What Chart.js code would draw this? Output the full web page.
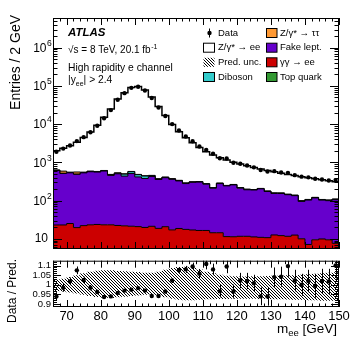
<!DOCTYPE html>
<html>
<head>
<meta charset="utf-8">
<script src="https://cdn.jsdelivr.net/npm/chart.js@4.4.1/dist/chart.umd.min.js"></script>
<style>
  html, body { margin: 0; padding: 0; background: #fff; }
  #wrap { position: relative; width: 357px; height: 344px; }
  #mainChart { position: absolute; left: 0; top: 0; }
  #ratioChart { position: absolute; left: 0; top: 253px; }
</style>
</head>
<body>
<div id="wrap">
  <canvas id="mainChart" width="357" height="253"></canvas>
  <canvas id="ratioChart" width="357" height="91"></canvas>
</div>
<script>
// m_ee binning (GeV)
const binEdges = [66, 68, 70, 72, 74, 76, 78, 80, 82, 84, 86, 88, 90, 92, 94, 96, 98, 100, 102, 104, 106, 108,
    110, 112, 114, 116, 118, 120, 122, 124, 126, 128, 130, 132, 134, 136, 138, 140, 142, 144, 146, 148, 150];
const massCentres = [67, 69, 71, 73, 75, 77, 79, 81, 83, 85, 87, 89, 91, 93, 95, 97, 99, 101, 103, 105, 107,
    109, 111, 113, 115, 117, 119, 121, 123, 125, 127, 129, 131, 133, 135, 137, 139, 141, 143, 145, 147, 149];
const xTicks = [70, 80, 90, 100, 110, 120, 130, 140, 150];
const ratioTicks = [0.9, 0.95, 1, 1.05, 1.1];

// entries per bin
const dataCounts = [1900, 2290, 2760, 3600, 4570, 6120, 9040, 14250, 23300, 43600,
    64800, 89000, 95600, 76000, 48400, 27300, 16300, 10020, 6790, 4750,
    3560, 2590, 2105, 1685, 1286, 1259, 975, 920, 826, 741,
    630, 578, 588, 544, 532, 462, 423, 405, 371, 357,
    336, 343];
const topQuark = [2.0, 2.0, 2.1, 2.1, 2.1, 2.2, 2.2, 2.2, 2.2, 2.3,
    2.3, 2.3, 2.3, 2.3, 2.2, 2.2, 2.2, 2.1, 2.1, 2.1,
    2.0, 2.0, 2.0, 1.9, 1.9, 1.9, 1.8, 1.8, 1.8, 1.7,
    1.7, 1.7, 1.6, 1.6, 1.6, 1.5, 1.5, 1.5, 1.4, 1.4,
    1.4, 1.3];
const photonInduced = [21, 21, 23, 17.5, 20, 21, 21.5, 21, 21, 20,
    19.5, 19, 18.5, 17.5, 19, 16.5, 18.5, 15, 16.5, 15.5,
    15, 14.5, 14.5, 12.5, 12.5, 9.5, 9.5, 9.8, 9.8, 9.5,
    9.2, 9, 11, 10.5, 10, 11, 8.5, 5.6, 8, 8.5,
    8, 6.3];
const fakeLept = [589, 489, 507, 466, 509, 545, 533, 570, 432, 480,
    415, 488, 395, 359, 404, 337, 376, 343, 308, 261,
    283, 288, 252, 196, 264, 231, 246, 200, 180, 178,
    192, 162, 141, 141, 131, 122, 85, 96, 108, 93,
    90, 98];
const diboson = [8, 8, 8, 9, 9, 10, 11, 12, 14, 18,
    55, 60, 60, 60, 25, 12, 10, 9, 8, 8,
    7, 7, 6, 6, 6, 5, 5, 5, 5, 4,
    4, 4, 4, 4, 3, 3, 3, 3, 3, 3,
    3, 3];
const zTauTau = [15, 70, 15, 65, 15, 12, 10, 8, 15, 12,
    10, 9, 8, 7, 6, 5, 5, 4, 4, 3,
    3, 3, 3, 2, 2, 2, 2, 2, 2, 1,
    1, 1, 1, 1, 1, 1, 1, 1, 1, 1,
    1, 1];
const zee = [1386, 1735, 2156, 2789, 3904, 5623, 8809, 14595, 24303, 44979,
    66302, 90704, 96769, 77905, 50924, 28608, 16479, 9427, 5961, 4110,
    2940, 2135, 1622, 1341, 1043, 900, 745, 681, 611, 540,
    462, 437, 406, 363, 338, 313, 323, 289, 251, 242,
    226, 202];

// lower panel
const ratio = [0.94, 0.985, 1.018, 1.075, 1.025, 0.985, 0.963, 0.937, 0.94, 0.958,
    0.97, 0.975, 0.983, 0.97, 0.942, 0.942, 0.965, 1.022, 1.077, 1.08,
    1.095, 1.058, 1.108, 1.08, 0.967, 1.095, 0.965, 1.022, 1.02, 1.008,
    0.94, 0.94, 1.04, 1.042, 1.097, 1.022, 1.0, 1.02, 0.995, 1.02,
    1.018, 1.1];
const ratioErr = [0.022, 0.021, 0.02, 0.02, 0.017, 0.014, 0.011, 0.009, 0.007, 0.005,
    0.004, 0.004, 0.004, 0.004, 0.005, 0.007, 0.009, 0.012, 0.015, 0.018,
    0.02, 0.024, 0.028, 0.03, 0.032, 0.035, 0.036, 0.04, 0.042, 0.044,
    0.046, 0.048, 0.05, 0.052, 0.055, 0.056, 0.057, 0.058, 0.062, 0.063,
    0.065, 0.068];
const bandUp = [1.027, 1.032, 1.04, 1.05, 1.06, 1.068, 1.073, 1.075, 1.075, 1.072,
    1.07, 1.068, 1.066, 1.063, 1.062, 1.068, 1.078, 1.087, 1.092, 1.093,
    1.09, 1.08, 1.068, 1.06, 1.052, 1.047, 1.044, 1.043, 1.043, 1.044,
    1.045, 1.046, 1.047, 1.048, 1.05, 1.05, 1.052, 1.055, 1.058, 1.06,
    1.062, 1.065];
const bandDown = [0.968, 0.965, 0.96, 0.955, 0.948, 0.942, 0.937, 0.933, 0.932, 0.935,
    0.938, 0.942, 0.945, 0.948, 0.95, 0.945, 0.935, 0.928, 0.922, 0.92,
    0.92, 0.922, 0.925, 0.925, 0.927, 0.927, 0.928, 0.928, 0.928, 0.928,
    0.927, 0.927, 0.925, 0.925, 0.924, 0.922, 0.922, 0.92, 0.92, 0.918,
    0.918, 0.918];

const FONT = '"Liberation Sans", Arial, Helvetica, sans-serif';

function stepPoints(values) {
    const pts = values.map((v, i) => ({ x: binEdges[i], y: v }));
    pts.push({ x: binEdges[binEdges.length - 1], y: values[values.length - 1] });
    return pts;
}

// crisp "\\\" hatching
function makeHatch() {
    const c = document.createElement('canvas');
    c.width = 3; c.height = 3;
    const g = c.getContext('2d');
    g.fillStyle = '#000';
    for (let i = 0; i < 3; i++) g.fillRect(i, i, 1, 1);
    return g.createPattern(c, 'repeat');
}
const hatch = makeHatch();

// stack, bottom to top
const layers = [
    { label: 'Top quark', values: topQuark, color: '#339933' },
    { label: 'γγ → ee', values: photonInduced, color: '#cc0000' },
    { label: 'Fake lept.', values: fakeLept, color: '#6600cc' },
    { label: 'Diboson', values: diboson, color: '#33cccc' },
    { label: 'Z/γ* → ττ', values: zTauTau, color: '#ff9933' },
    { label: 'Z/γ* → ee', values: zee, color: '#ffffff' },
];

let running = new Array(massCentres.length).fill(0);
const stackSets = layers.map((l, idx) => {
    running = running.map((s, i) => s + l.values[i]);
    return {
        label: l.label,
        data: stepPoints(running),
        stepped: true,
        fill: idx === 0 ? 'start' : '-1',
        backgroundColor: l.color,
        borderColor: '#000',
        borderWidth: idx === layers.length - 1 ? 1.5 : 1,
        pointRadius: 0,
    };
});

function drawTicks(ctx, a, xs, ys, yTickList, xLen, yLen) {
    ctx.beginPath();
    for (let v = 66; v <= 150; v += 2) {
        const px = Math.round(xs.getPixelForValue(v)) + 0.5;
        const len = v % 10 === 0 ? xLen[0] : xLen[1];
        ctx.moveTo(px, a.bottom); ctx.lineTo(px, a.bottom - len);
        ctx.moveTo(px, a.top); ctx.lineTo(px, a.top + len);
    }
    yTickList.forEach(t => {
        const py = Math.round(ys.getPixelForValue(t.v)) + 0.5;
        const len = t.major ? yLen[0] : yLen[1];
        ctx.moveTo(a.left, py); ctx.lineTo(a.left + len, py);
        ctx.moveTo(a.right, py); ctx.lineTo(a.right - len, py);
    });
    ctx.stroke();
}

const mainDecor = {
    id: 'mainDecor',
    afterDraw(chart) {
        const ctx = chart.ctx, a = chart.chartArea;
        const xs = chart.scales.x, ys = chart.scales.y;
        ctx.save();
        ctx.strokeStyle = '#000';
        ctx.lineWidth = 1;
        ctx.strokeRect(a.left + 0.5, a.top + 0.5, a.right - a.left - 1, a.bottom - a.top - 1);

        const logTicks = [];
        for (let e = 0; e <= 6; e++) {
            for (let m = 1; m <= 9; m++) {
                const v = m * Math.pow(10, e);
                if (v >= ys.min && v <= ys.max) logTicks.push({ v, major: m === 1 });
            }
        }
        drawTicks(ctx, a, xs, ys, logTicks, [7, 3.5], [9, 4.5]);

        // y labels 10^n
        ctx.fillStyle = '#000';
        ctx.textBaseline = 'middle';
        for (let e = 1; e <= 6; e++) {
            const py = ys.getPixelForValue(Math.pow(10, e));
            ctx.font = `12px ${FONT}`;
            ctx.textAlign = 'right';
            if (e === 1) {
                ctx.fillText('10', 48, py);
            } else {
                ctx.fillText('10', 46.5, py + 1);
                ctx.font = `8.5px ${FONT}`;
                ctx.textAlign = 'left';
                ctx.fillText(String(e), 47, py - 4);
            }
        }

        // y title
        ctx.save();
        ctx.translate(20, 15);
        ctx.rotate(-Math.PI / 2);
        ctx.font = `14px ${FONT}`;
        ctx.textAlign = 'right';
        ctx.textBaseline = 'alphabetic';
        ctx.fillText('Entries / 2 GeV', 0, 0);
        ctx.restore();

        // labels
        ctx.textAlign = 'left';
        ctx.textBaseline = 'alphabetic';
        ctx.font = `italic bold 11.5px ${FONT}`;
        ctx.fillText('ATLAS', 68, 36);
        ctx.font = `10px ${FONT}`;
        const t1 = '√s = 8 TeV, 20.1 fb';
        ctx.fillText(t1, 68, 53.3);
        const w1 = ctx.measureText(t1).width;
        ctx.font = `7px ${FONT}`;
        ctx.fillText('-1', 68 + w1 + 0.5, 49);
        ctx.font = `10.3px ${FONT}`;
        ctx.fillText('High rapidity e channel', 68, 70.7);
        let px = 68;
        ctx.fillText('|y', px, 83.3); px += ctx.measureText('|y').width;
        ctx.font = `7px ${FONT}`;
        ctx.fillText('ee', px, 85.8); px += ctx.measureText('ee').width;
        ctx.font = `10.3px ${FONT}`;
        ctx.fillText('| > 2.4', px, 83.3);

        // legend
        const rows = [33, 47.7, 62.3, 77];
        const col1 = [
            { label: 'Data', kind: 'data' },
            { label: 'Z/γ* → ee', kind: 'box', color: '#ffffff' },
            { label: 'Pred. unc.', kind: 'hatch' },
            { label: 'Diboson', kind: 'box', color: '#33cccc' },
        ];
        const col2 = [
            { label: 'Z/γ* → ττ', color: '#ff9933' },
            { label: 'Fake lept.', color: '#6600cc' },
            { label: 'γγ → ee', color: '#cc0000' },
            { label: 'Top quark', color: '#339933' },
        ];
        ctx.font = `9.5px ${FONT}`;
        ctx.textBaseline = 'middle';
        col1.forEach((it, i) => {
            const cy = rows[i];
            if (it.kind === 'data') {
                ctx.beginPath();
                ctx.moveTo(209.5, cy - 4.5); ctx.lineTo(209.5, cy + 4.5);
                ctx.stroke();
                ctx.beginPath();
                ctx.arc(209.5, cy, 2.2, 0, Math.PI * 2);
                ctx.fill();
            } else if (it.kind === 'hatch') {
                ctx.fillStyle = hatch;
                ctx.fillRect(203.5, cy - 4.5, 11, 9);
                ctx.fillStyle = '#000';
            } else {
                ctx.fillStyle = it.color;
                ctx.fillRect(203.5, cy - 4.5, 11, 9);
                ctx.strokeRect(203.5, cy - 4.5, 11, 9);
                ctx.fillStyle = '#000';
            }
            ctx.fillText(it.label, 218, cy);
        });
        col2.forEach((it, i) => {
            const cy = rows[i];
            ctx.fillStyle = it.color;
            ctx.fillRect(266.5, cy - 4.5, 10.5, 9);
            ctx.strokeRect(266.5, cy - 4.5, 10.5, 9);
            ctx.fillStyle = '#000';
            ctx.fillText(it.label, 280, cy);
        });
        ctx.restore();
    }
};

new Chart(document.getElementById('mainChart'), {
    type: 'line',
    data: {
        datasets: [
            ...stackSets,
            {
                label: 'Data',
                data: massCentres.map((x, i) => ({ x, y: dataCounts[i] })),
                showLine: false,
                pointRadius: 2.2,
                pointBackgroundColor: '#000',
                pointBorderWidth: 0,
                order: -1,
            },
        ]
    },
    options: {
        responsive: false,
        animation: false,
        devicePixelRatio: 1,
        layout: { padding: { top: 18, right: 18, bottom: 1, left: 0 } },
        plugins: { legend: { display: false }, tooltip: { enabled: false } },
        scales: {
            x: { type: 'linear', min: 66, max: 150, display: false },
            y: {
                type: 'logarithmic', min: 5.4, max: 6e6,
                ticks: { display: false },
                grid: { display: false },
                border: { display: false },
                afterFit(s) { s.width = 53; }
            }
        }
    },
    plugins: [mainDecor]
});

const ratioDecor = {
    id: 'ratioDecor',
    afterDatasetsDraw(chart) {
        const ctx = chart.ctx, a = chart.chartArea;
        const xs = chart.scales.x, ys = chart.scales.y;
        ctx.save();
        ctx.beginPath();
        ctx.rect(a.left, a.top, a.right - a.left, a.bottom - a.top);
        ctx.clip();
        ctx.strokeStyle = '#000';
        ctx.lineWidth = 1;
        ctx.beginPath();
        massCentres.forEach((m, i) => {
            const px = Math.round(xs.getPixelForValue(m)) + 0.5;
            ctx.moveTo(px, ys.getPixelForValue(ratio[i] - ratioErr[i]));
            ctx.lineTo(px, ys.getPixelForValue(ratio[i] + ratioErr[i]));
        });
        ctx.stroke();
        ctx.restore();
    },
    afterDraw(chart) {
        const ctx = chart.ctx, a = chart.chartArea;
        const xs = chart.scales.x, ys = chart.scales.y;
        ctx.save();
        ctx.strokeStyle = '#000';
        ctx.lineWidth = 1;
        ctx.strokeRect(a.left + 0.5, a.top + 0.5, a.right - a.left - 1, a.bottom - a.top - 1);
        const linTicks = [];
        for (let k = 89; k <= 112; k++) linTicks.push({ v: k / 100, major: k % 5 === 0 });
        drawTicks(ctx, a, xs, ys, linTicks, [7, 3.5], [8, 4]);

        ctx.fillStyle = '#000';
        // y title (canvas starts 253px down the page)
        ctx.save();
        ctx.translate(15.5, 38);
        ctx.rotate(-Math.PI / 2);
        ctx.font = `12px ${FONT}`;
        ctx.textAlign = 'center';
        ctx.textBaseline = 'alphabetic';
        ctx.fillText('Data / Pred.', 0, 0);
        ctx.restore();

        // x title
        ctx.textBaseline = 'alphabetic';
        ctx.textAlign = 'left';
        ctx.font = `13.5px ${FONT}`;
        const wm = ctx.measureText('m').width;
        const wu = ctx.measureText(' [GeV]').width;
        ctx.font = `9.5px ${FONT}`;
        const ws = ctx.measureText('ee').width;
        let px = 337 - (wm + ws + wu);
        ctx.font = `13.5px ${FONT}`;
        ctx.fillText('m', px, 80); px += wm;
        ctx.font = `9.5px ${FONT}`;
        ctx.fillText('ee', px, 83); px += ws;
        ctx.font = `13.5px ${FONT}`;
        ctx.fillText(' [GeV]', px, 80);
        ctx.restore();
    }
};

new Chart(document.getElementById('ratioChart'), {
    type: 'line',
    data: {
        datasets: [
            {
                label: 'band down',
                data: stepPoints(bandDown),
                stepped: true,
                fill: false,
                borderWidth: 0,
                pointRadius: 0,
            },
            {
                label: 'Pred. unc.',
                data: stepPoints(bandUp),
                stepped: true,
                fill: '-1',
                backgroundColor: hatch,
                borderWidth: 0,
                pointRadius: 0,
            },
            {
                label: 'Data / Pred.',
                data: massCentres.map((x, i) => ({ x, y: ratio[i] })),
                showLine: false,
                pointRadius: 2.2,
                pointBackgroundColor: '#000',
                pointBorderWidth: 0,
                order: -1,
            }
        ]
    },
    options: {
        responsive: false,
        animation: false,
        devicePixelRatio: 1,
        layout: { padding: { top: 5, right: 18, bottom: 0, left: 0 } },
        plugins: { legend: { display: false }, tooltip: { enabled: false } },
        scales: {
            x: {
                type: 'linear', min: 66, max: 150,
                afterBuildTicks(s) { s.ticks = xTicks.map(v => ({ value: v })); },
                ticks: { font: { size: 13, family: FONT }, color: '#000', padding: 2, maxRotation: 0, autoSkip: false },
                grid: { display: false, drawTicks: false },
                border: { display: false },
                afterFit(s) { s.height = 37; }
            },
            y: {
                min: 0.885, max: 1.125,
                afterBuildTicks(s) { s.ticks = ratioTicks.map(v => ({ value: v })); },
                ticks: {
                    autoSkip: false,
                    font: { size: 9.5, family: FONT }, color: '#000', padding: 2,
                    callback: v => String(+v.toFixed(2))
                },
                grid: { display: false, drawTicks: false },
                border: { display: false },
                afterFit(s) { s.width = 53; }
            }
        }
    },
    plugins: [ratioDecor]
});
</script>
</body>
</html>
